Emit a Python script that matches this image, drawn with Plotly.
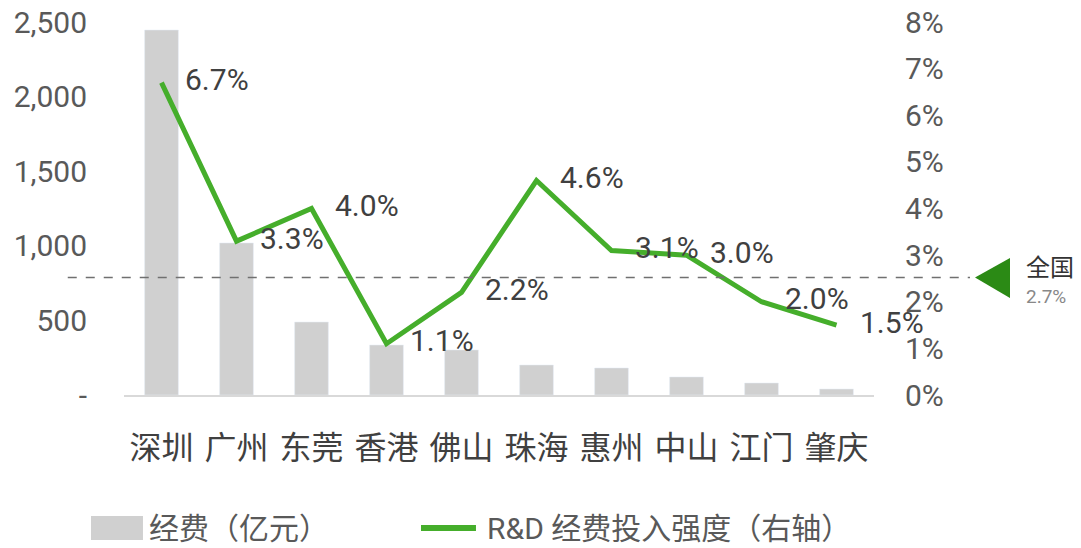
import plotly.graph_objects as go

cities = ["深圳", "广州", "东莞", "香港", "佛山", "珠海", "惠州", "中山", "江门", "肇庆"]
spending = [2446, 1019, 489, 335, 302, 201, 181, 121, 80, 40]
intensity = [6.7, 3.3, 4.0, 1.1, 2.2, 4.6, 3.1, 3.0, 2.0, 1.5]
intensity_labels = ["6.7%", "3.3%", "4.0%", "1.1%", "2.2%", "4.6%", "3.1%", "3.0%", "2.0%", "1.5%"]
left_ticks = [0, 500, 1000, 1500, 2000, 2500]
left_ticktext = ["-", "500", "1,000", "1,500", "2,000", "2,500"]
right_ticks = [0, 1, 2, 3, 4, 5, 6, 7, 8]
right_ticktext = ["0%", "1%", "2%", "3%", "4%", "5%", "6%", "7%", "8%"]
national_level = 2.52
national_label = "2.7%"
bar_name = "经费（亿元）"
line_name = "R&D 经费投入强度（右轴）"

FONT = "Roboto, 'Noto Sans CJK SC', sans-serif"
GRAY = "#595959"
GREEN = "#45ae2b"
BARGRAY = "#d0d0d0"

fig = go.Figure()
fig.add_trace(go.Bar(
    x=cities, y=spending, name=bar_name,
    marker=dict(color=BARGRAY), yaxis="y", showlegend=False,
))
fig.add_trace(go.Scatter(
    x=cities, y=intensity, name=line_name,
    mode="lines+markers+text", text=intensity_labels, textposition="middle right",
    textfont=dict(size=30, color="#404040", family=FONT),
    marker=dict(size=36, color="rgba(0,0,0,0)"),
    line=dict(color=GREEN, width=5), yaxis="y2", cliponaxis=False, showlegend=False,
))

# national dashed reference line
fig.add_shape(type="line", xref="paper", yref="y2",
              x0=-0.075, x1=1.128, y0=national_level, y1=national_level,
              line=dict(color="#707070", width=1.5, dash="dash"), layer="above")
# triangle marker
fig.add_shape(type="path", xref="paper", yref="y2",
              path=f"M 1.1347 {national_level} L 1.1813 2.94 L 1.1813 2.08 Z",
              fillcolor="#2b8a15", line=dict(width=0), layer="above")
fig.add_annotation(xref="paper", yref="paper", x=1.2, y=0.34, text="全国",
                   showarrow=False, xanchor="left", yanchor="middle",
                   font=dict(size=24, color="#333333", family=FONT))
fig.add_annotation(xref="paper", yref="paper", x=1.2, y=0.263, text=national_label,
                   showarrow=False, xanchor="left", yanchor="middle",
                   font=dict(size=19, color="#888888", family=FONT))

# legend (drawn manually to match swatch sizes)
fig.add_shape(type="rect", xref="paper", yref="paper", x0=-0.044, x1=0.0253,
              y0=-0.3887, y1=-0.3244, fillcolor=BARGRAY, line=dict(width=0))
fig.add_annotation(xref="paper", yref="paper", x=0.030, y=-0.3566, text=bar_name,
                   showarrow=False, xanchor="left", yanchor="middle",
                   font=dict(size=30, color=GRAY, family=FONT))
fig.add_shape(type="line", xref="paper", yref="paper", x0=0.396, x1=0.4693,
              y0=-0.3566, y1=-0.3566, line=dict(color=GREEN, width=6))
fig.add_annotation(xref="paper", yref="paper", x=0.481, y=-0.3566, text=line_name,
                   showarrow=False, xanchor="left", yanchor="middle",
                   font=dict(size=30, color=GRAY, family=FONT))

fig.update_layout(
    width=1081, height=548,
    margin=dict(l=124, r=207, t=22, b=153, autoexpand=False),
    paper_bgcolor="white", plot_bgcolor="white",
    font=dict(family=FONT, color=GRAY),
    bargap=0.55,
    showlegend=False,
    hovermode=False,
    xaxis=dict(range=[-0.5, 9.5], showgrid=False, showline=True, linecolor="#d9d9d9",
               linewidth=2, ticks="", tickfont=dict(size=32, color="#404040", family=FONT),
               ticklabelstandoff=24, automargin=False),
    yaxis=dict(range=[0, 2500], tickvals=left_ticks, ticktext=left_ticktext,
               showgrid=False, zeroline=False, showline=False,
               tickfont=dict(size=30, color=GRAY, family=FONT),
               ticklabelstandoff=36, automargin=False),
    yaxis2=dict(range=[0, 8], tickvals=right_ticks, ticktext=right_ticktext,
                overlaying="y", side="right", showgrid=False, zeroline=False,
                showline=False, tickfont=dict(size=30, color=GRAY, family=FONT),
                ticklabelstandoff=30, automargin=False),
)

fig.write_html("out.html", config={"displayModeBar": False},
               post_script="document.body.style.margin='0';document.body.style.overflow='hidden';")
